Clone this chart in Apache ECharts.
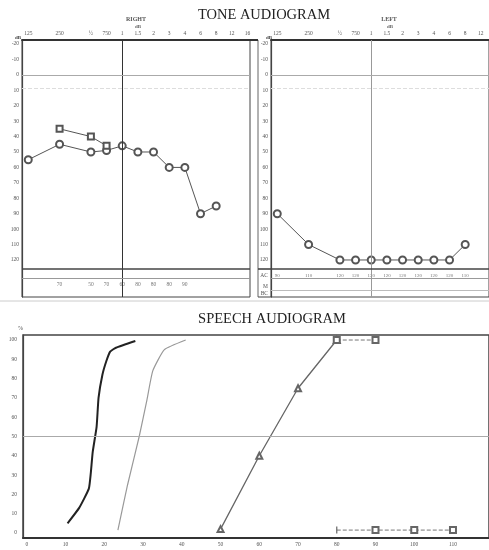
<!DOCTYPE html>
<html><head><meta charset="utf-8">
<script src="https://cdn.jsdelivr.net/npm/echarts@6/dist/echarts.min.js"></script>
<style>html,body{margin:0;padding:0;background:#fff}#c{width:489px;height:550px}</style>
</head><body><div id="c"></div>
<script>
// ---------- data ----------
const freqTicks      = [125, 250, 500, 750, 1000, 1500, 2000, 3000, 4000, 6000, 8000, 12000, 16000];
const freqTickLabels = ['125', '250', '½', '750', '1', '1.5', '2', '3', '4', '6', '8', '12', '16'];
const freqPos        = [0, 1, 2, 2.5, 3, 3.5, 4, 4.5, 5, 5.5, 6, 6.5, 7];
const toneDbTicks    = [-20, -10, 0, 10, 20, 30, 40, 50, 60, 70, 80, 90, 100, 110, 120];

// right ear (left panel)
const rightAirFreq  = [125, 250, 500, 750, 1000, 1500, 2000, 3000, 4000, 6000, 8000];
const rightAirDb    = [55, 45, 50, 49, 46, 50, 50, 60, 60, 90, 85];
const rightBoneFreq = [250, 500, 750];
const rightBoneDb   = [35, 40, 46];
const rightMaskFreq = [250, 500, 750, 1000, 1500, 2000, 3000, 4000];
const rightMaskVal  = ['70', '50', '70', '60', '80', '80', '80', '90'];

// left ear (right panel)
const leftAirFreq  = [125, 250, 500, 750, 1000, 1500, 2000, 3000, 4000, 6000, 8000];
const leftAirDb    = [90, 110, 120, 120, 120, 120, 120, 120, 120, 120, 110];
const leftRowVal   = ['90', '110', '120', '120', '120', '120', '120', '120', '120', '120', '110'];
const leftRowNames = ['AC', 'M', 'BC'];

// speech audiogram
const speechDbTicks  = [0, 10, 20, 30, 40, 50, 60, 70, 80, 90, 100, 110];
const speechPctTicks = [0, 10, 20, 30, 40, 50, 60, 70, 80, 90, 100];
const speechCurve1Db  = [10.5, 13.5, 16, 16.5, 17, 18, 18.5, 19.5, 20.5, 21.5, 23, 28];
const speechCurve1Pct = [5, 13, 23, 31, 42, 55, 70, 82, 89, 94, 96, 99.5];
const speechCurve2Db  = [23.5, 26, 29, 31, 32.5, 35.5, 41];
const speechCurve2Pct = [1.5, 25, 50, 69, 84, 95, 100];
const speechCurve3Db  = [50, 60, 70, 80];
const speechCurve3Pct = [2, 40, 75, 100];
const speechPlateauDb  = [80, 90];
const speechPlateauPct = [100, 100];
const speechBottomDb  = [80, 90, 100, 110];
const speechBottomPct = [1.5, 1.5, 1.5, 1.5];

// ---------- helpers ----------
const pos = f => freqPos[freqTicks.indexOf(f)];
const pairs = (xs, ys, fx) => xs.map((x, i) => [fx ? fx(x) : x, ys[i]]);
const lab = {color: '#555', fontSize: 5.5, fontFamily: 'Liberation Serif'};
const serif = 'Liberation Serif';

function toneX(gi, max) {
  return {
    type: 'value', gridIndex: gi, position: 'top', min: -0.2, max: max,
    axisLine: {show: true, onZero: false, lineStyle: {color: '#333', width: 2}},
    axisTick: {show: false}, splitLine: {show: false},
    axisLabel: Object.assign({}, lab, {
      margin: 3, customValues: freqPos,
      formatter: v => { const i = freqPos.indexOf(v); return i >= 0 ? freqTickLabels[i] : ''; }
    })
  };
}
function toneY(gi, extra) {
  const cv = toneDbTicks.concat(extra ? extra.vals : []);
  return {
    type: 'value', gridIndex: gi, inverse: true, min: -22.6, max: 144,
    axisLine: {show: true, onZero: false, lineStyle: {color: '#444', width: 1.2}},
    axisTick: {show: false}, splitLine: {show: false},
    axisLabel: Object.assign({}, lab, {
      margin: 3, customValues: cv,
      formatter: v => {
        if (extra) { const k = extra.vals.indexOf(v); if (k >= 0) return extra.names[k]; }
        return String(v);
      }
    })
  };
}
function panelLines(gi, vLineColor) {
  return {
    type: 'line', xAxisIndex: gi, yAxisIndex: gi, data: [], silent: true,
    markLine: {
      silent: true, symbol: 'none', label: {show: false},
      data: [
        {xAxis: 3, lineStyle: {color: vLineColor, width: 1, type: 'solid'}},
        {yAxis: 0, lineStyle: {color: '#aaa', width: 1, type: 'solid'}},
        {yAxis: 9, lineStyle: {color: '#ddd', width: 1, type: 'dashed'}},
        {yAxis: 126, lineStyle: {color: '#444', width: 1.6, type: 'solid'}},
        {yAxis: 132, lineStyle: {color: '#999', width: 1, type: 'solid'}}
      ]
    }
  };
}

const chart = echarts.init(document.getElementById('c'), null, {renderer: 'canvas'});
chart.setOption({
  backgroundColor: '#fff',
  animation: false,
  title: [
    {text: 'TONE AUDIOGRAM', left: 259, top: 3, textAlign: 'center',
     textStyle: {fontFamily: serif, fontSize: 14.5, fontWeight: 'normal', color: '#222'}},
    {text: 'RIGHT', left: 131, top: 11, textAlign: 'center',
     textStyle: {fontFamily: serif, fontSize: 6, fontWeight: 'bold', color: '#555'}},
    {text: 'dB', left: 133, top: 19, textAlign: 'center',
     textStyle: {fontFamily: serif, fontSize: 5, color: '#666'}},
    {text: 'LEFT', left: 384, top: 11, textAlign: 'center',
     textStyle: {fontFamily: serif, fontSize: 6, fontWeight: 'bold', color: '#555'}},
    {text: 'dB', left: 385, top: 19, textAlign: 'center',
     textStyle: {fontFamily: serif, fontSize: 5, color: '#666'}},
    {text: 'dB', left: 13, top: 30, textAlign: 'center',
     textStyle: {fontFamily: serif, fontSize: 5, fontWeight: 'bold', color: '#444'}},
    {text: 'dB', left: 264, top: 30, textAlign: 'center',
     textStyle: {fontFamily: serif, fontSize: 5, fontWeight: 'bold', color: '#444'}},
    {text: 'SPEECH AUDIOGRAM', left: 267, top: 307, textAlign: 'center',
     textStyle: {fontFamily: serif, fontSize: 14.5, fontWeight: 'normal', color: '#222'}}
  ],
  graphic: [
    {type: 'line', shape: {x1: 258, y1: 40, x2: 258, y2: 297}, style: {stroke: '#666', lineWidth: 1}},
    {type: 'line', shape: {x1: 250, y1: 40, x2: 258, y2: 40}, style: {stroke: '#333', lineWidth: 2}},
    {type: 'line', shape: {x1: 258, y1: 269, x2: 271, y2: 269}, style: {stroke: '#444', lineWidth: 1.6}},
    {type: 'line', shape: {x1: 258, y1: 297, x2: 271, y2: 297}, style: {stroke: '#444', lineWidth: 1}},
    {type: 'line', shape: {x1: 0, y1: 301, x2: 489, y2: 301}, style: {stroke: '#ccc', lineWidth: 1}}
  ],
  grid: [
    {left: 22, top: 40, width: 228, height: 257, show: true, borderColor: '#444', borderWidth: 1},
    {left: 271, top: 40, width: 218, height: 257, show: true, borderColor: '#444', borderWidth: 1},
    {left: 23, top: 335, width: 466, height: 203, show: true, borderColor: '#444', borderWidth: 1.5}
  ],
  xAxis: [
    toneX(0, 7.08),
    toneX(1, 6.76),
    {type: 'value', gridIndex: 2, min: -1, max: 119.3,
     axisLine: {show: true, onZero: false, lineStyle: {color: '#333', width: 2}},
     axisTick: {show: false}, splitLine: {show: false},
     axisLabel: Object.assign({}, lab, {margin: 4, customValues: speechDbTicks})}
  ],
  yAxis: [
    toneY(0),
    toneY(1, {vals: [130, 137, 142], names: leftRowNames}),
    {type: 'value', gridIndex: 2, min: -2.6, max: 102.6, name: '%', nameGap: 4,
     nameTextStyle: {color: '#555', fontSize: 6, fontFamily: serif, align: 'right'},
     axisLine: {show: true, onZero: false, lineStyle: {color: '#444', width: 1.2}},
     axisTick: {show: false}, splitLine: {show: false},
     axisLabel: Object.assign({}, lab, {margin: 6, customValues: speechPctTicks})}
  ],
  series: [
    panelLines(0, '#333'),
    panelLines(1, '#999'),
    {type: 'line', xAxisIndex: 1, yAxisIndex: 1, data: [], silent: true,
     markLine: {silent: true, symbol: 'none', label: {show: false},
       data: [{yAxis: 139.5, lineStyle: {color: '#bbb', width: 1, type: 'solid'}}]}},
    // right ear air
    {type: 'line', xAxisIndex: 0, yAxisIndex: 0, data: pairs(rightAirFreq, rightAirDb, pos),
     symbol: 'emptyCircle', symbolSize: 7, lineStyle: {color: '#555', width: 1},
     itemStyle: {color: '#555', borderWidth: 1}},
    // right ear second curve
    {type: 'line', xAxisIndex: 0, yAxisIndex: 0, data: pairs(rightBoneFreq, rightBoneDb, pos),
     symbol: 'emptyRect', symbolSize: 6, lineStyle: {color: '#555', width: 1},
     itemStyle: {color: '#555', borderWidth: 1}},
    // right masking row
    {type: 'scatter', xAxisIndex: 0, yAxisIndex: 0, symbolSize: 0,
     data: rightMaskFreq.map((f, i) => [pos(f), 136, rightMaskVal[i]]),
     label: Object.assign({}, lab, {show: true, position: 'inside', formatter: p => p.value[2]})},
    // left ear air
    {type: 'line', xAxisIndex: 1, yAxisIndex: 1, data: pairs(leftAirFreq, leftAirDb, pos),
     symbol: 'emptyCircle', symbolSize: 7, lineStyle: {color: '#555', width: 1},
     itemStyle: {color: '#555', borderWidth: 1}},
    // left row values
    {type: 'scatter', xAxisIndex: 1, yAxisIndex: 1, symbolSize: 0,
     data: leftAirFreq.map((f, i) => [pos(f), 130, leftRowVal[i]]),
     label: Object.assign({}, lab, {show: true, position: 'inside', fontSize: 5, formatter: p => p.value[2]})},
    // speech lines
    {type: 'line', xAxisIndex: 2, yAxisIndex: 2, data: [], silent: true,
     markLine: {silent: true, symbol: 'none', label: {show: false},
       data: [{yAxis: 50, lineStyle: {color: '#aaa', width: 1, type: 'solid'}}]}},
    {type: 'line', xAxisIndex: 2, yAxisIndex: 2, data: pairs(speechCurve1Db, speechCurve1Pct),
     symbol: 'none', smooth: 0.15, lineStyle: {color: '#222', width: 2}},
    {type: 'line', xAxisIndex: 2, yAxisIndex: 2, data: pairs(speechCurve2Db, speechCurve2Pct),
     symbol: 'none', smooth: 0.15, lineStyle: {color: '#999', width: 1.2}},
    {type: 'line', xAxisIndex: 2, yAxisIndex: 2, data: pairs(speechCurve3Db, speechCurve3Pct),
     symbol: 'emptyTriangle', symbolSize: 6, lineStyle: {color: '#666', width: 1.3},
     itemStyle: {color: '#666'}},
    {type: 'line', xAxisIndex: 2, yAxisIndex: 2, data: pairs(speechPlateauDb, speechPlateauPct),
     symbol: 'emptyRect', symbolSize: 6, lineStyle: {color: '#777', width: 1, type: 'dashed'},
     itemStyle: {color: '#666'}},
    {type: 'line', xAxisIndex: 2, yAxisIndex: 2, data: pairs(speechBottomDb, speechBottomPct),
     symbol: (v, p) => p.dataIndex === 0 ? 'rect' : 'emptyRect',
     symbolSize: (v, p) => p.dataIndex === 0 ? [1.2, 7] : 6,
     lineStyle: {color: '#777', width: 1, type: 'dashed'},
     itemStyle: {color: '#666'}}
  ]
});
</script></body></html>
